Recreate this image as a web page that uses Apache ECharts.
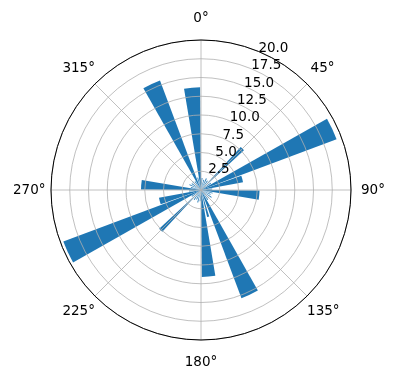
<!DOCTYPE html>
<html>
<head>
<meta charset="utf-8">
<script src="https://cdn.jsdelivr.net/npm/echarts@6/dist/echarts.min.js"></script>
<style>html,body{margin:0;padding:0;background:#fff}#c{width:396px;height:380px}</style>
</head>
<body>
<div id="c"></div>
<script>
// bar centres (degrees, clockwise from north)
var categories = ['5','15','25','35','45','55','65','75','85','95','105','115','125','135','145','155','165','175',
  '185','195','205','215','225','235','245','255','265','275','285','295','305','315','325','335','345','355'];
// wide bars
var wideValues = ['-','-','-','-','-','-',19.3,5.7,'-',7.8,'-','-','-','-','-',15.4,'-',11.6,
  '-','-','-','-','-','-',19.6,5.7,'-',8.0,'-','-','-','-','-',15.6,'-',13.7];
// narrow bars
var narrowValues = [1.6,1.4,1.7,1.5,7.8,1.6,'-','-',1.5,'-',1.6,1.4,1.7,1.5,1.6,'-',3.7,'-',
  1.5,1.7,1.4,1.6,7.6,1.5,'-','-',1.6,'-',1.4,1.7,1.5,1.6,1.4,'-',1.7,'-'];
var radialTicks = [0,2.5,5.0,7.5,10.0,12.5,15.0,17.5,20.0];
var angleTicks = [0,45,90,135,180,225,270,315];

var chart = echarts.init(document.getElementById('c'), null, {renderer:'canvas'});
var FONT = 'DejaVu Sans';
var C = ['201','190'];
var R = 150;
// label paddings so that each theta label is centred on a common radius (like matplotlib)
var pads = {
  0:[0,0,15,0], 45:[0,0,8.5,3.5], 90:[0,0,0,10], 135:[8.5,0,0,0],
  180:[15,0,0,0], 225:[8.5,0,0,0], 270:[0,5.5,0,0], 315:[0,0,8.5,0]
};
var rich = {};
angleTicks.forEach(function(t){
  rich['t'+t] = {fontFamily:FONT,fontSize:13.5,color:'#000',padding:pads[t]};
});
var hiddenAngleCat = function(idx){return {polarIndex:idx,type:'category',data:categories,startAngle:90,clockwise:true,
  axisLine:{show:false},axisTick:{show:false},axisLabel:{show:false},splitLine:{show:false}};};
var hiddenRadius = function(idx){return {polarIndex:idx,type:'value',min:0,max:20,
  axisLine:{show:false},axisTick:{show:false},axisLabel:{show:false},splitLine:{show:false}};};
chart.setOption({
  animation:false,
  backgroundColor:'#fff',
  polar:[{center:C,radius:R},{center:C,radius:R},{center:C,radius:R},{center:C,radius:R}],
  angleAxis:[
    {polarIndex:0,type:'value',min:0,max:360,interval:45,startAngle:90,clockwise:true,z:10,
      axisLine:{show:true,lineStyle:{color:'#000',width:1}},axisTick:{show:false},
      axisLabel:{show:true,margin:0,color:'#000',fontFamily:FONT,fontSize:13.5,rich:rich,
        formatter:function(v){return v>=360?'':'{t'+v+'|'+v+'°}';}},
      splitLine:{show:true,lineStyle:{color:'#b0b0b0',width:0.8}}},
    {polarIndex:1,type:'value',min:0,max:360,startAngle:67.5,clockwise:true,
      axisLine:{show:false},axisTick:{show:false},axisLabel:{show:false},splitLine:{show:false}},
    hiddenAngleCat(2),
    hiddenAngleCat(3)
  ],
  radiusAxis:[
    {polarIndex:0,type:'value',min:0,max:20,interval:2.5,z:10,
      axisLine:{show:false},axisTick:{show:false},axisLabel:{show:false},
      splitLine:{show:true,lineStyle:{color:'#b0b0b0',width:0.8}}},
    {polarIndex:1,type:'value',min:0,max:20,interval:2.5,z:12,
      axisLine:{show:false},axisTick:{show:false},
      axisLabel:{show:true,margin:0,color:'#000',fontFamily:FONT,fontSize:13.5,rotate:0,
        align:'left',verticalAlign:'bottom',padding:[0,0,-4,0],
        formatter:function(v){return v===0?'':v.toFixed(1);}},
      splitLine:{show:false}},
    hiddenRadius(2),
    hiddenRadius(3)
  ],
  series:[
    {type:'bar',coordinateSystem:'polar',polarIndex:2,data:wideValues,barWidth:'90%',
      itemStyle:{color:'#1f77b4'},z:2},
    {type:'bar',coordinateSystem:'polar',polarIndex:3,data:narrowValues,barWidth:'45%',
      itemStyle:{color:'#1f77b4'},z:2}
  ]
});
</script>
</body>
</html>
